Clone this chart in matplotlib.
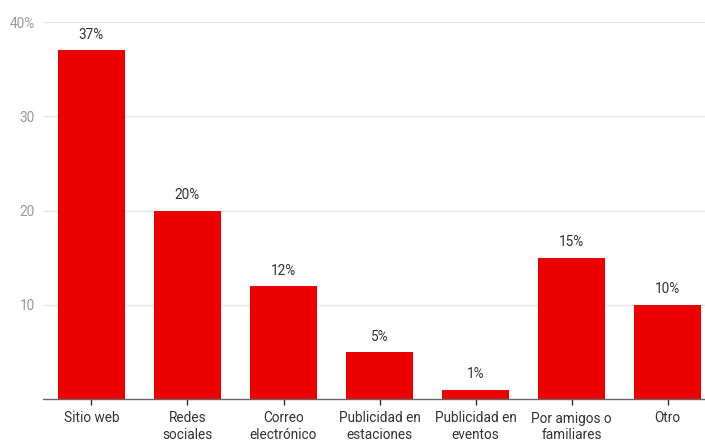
import matplotlib
matplotlib.use("Agg")
import matplotlib.pyplot as plt
import numpy as np

categories = ["Sitio web", "Redes\nsociales", "Correo\nelectrónico",
              "Publicidad en\nestaciones", "Publicidad en\neventos",
              "Por amigos o\nfamiliares", "Otro"]
values = [37, 20, 12, 5, 1, 15, 10]
yticks = [10, 20, 30, 40]
ytick_labels = ["10", "20", "30", "40%"]

plt.rcParams["font.family"] = ["Roboto", "DejaVu Sans"]

fig = plt.figure(figsize=(7.05, 4.42), dpi=100)
ax = fig.add_axes([43 / 705, 43 / 442, 662 / 705, 377 / 442])

x = np.arange(len(categories))
ax.bar(x, values, width=0.7, color="#ee0000", zorder=3)

for xi, v in zip(x, values):
    ax.annotate(f"{v}%", (xi, v), xytext=(0, 6), textcoords="offset points",
                ha="center", va="bottom", fontsize=9.8, color="#333333")

ax.set_xlim(-0.505, 6.39)
ax.set_ylim(0, 40)
ax.set_yticks(yticks)
ax.set_yticklabels(ytick_labels)
ax.set_xticks(x)
ax.set_xticklabels(categories, fontsize=9.8, color="#333333", linespacing=1.22)

ax.grid(axis="y", color="#e6e6e6", linewidth=1, zorder=0)
for s in ["top", "right", "left"]:
    ax.spines[s].set_visible(False)
ax.spines["bottom"].set_color("#666666")
ax.spines["bottom"].set_linewidth(1)
ax.spines["bottom"].set_zorder(4)

ax.tick_params(axis="y", length=0, pad=6, labelsize=9.8, labelcolor="#999999")
ax.tick_params(axis="x", length=4, width=1, color="#333333", pad=5)

fig.savefig("out.png", dpi=100)
